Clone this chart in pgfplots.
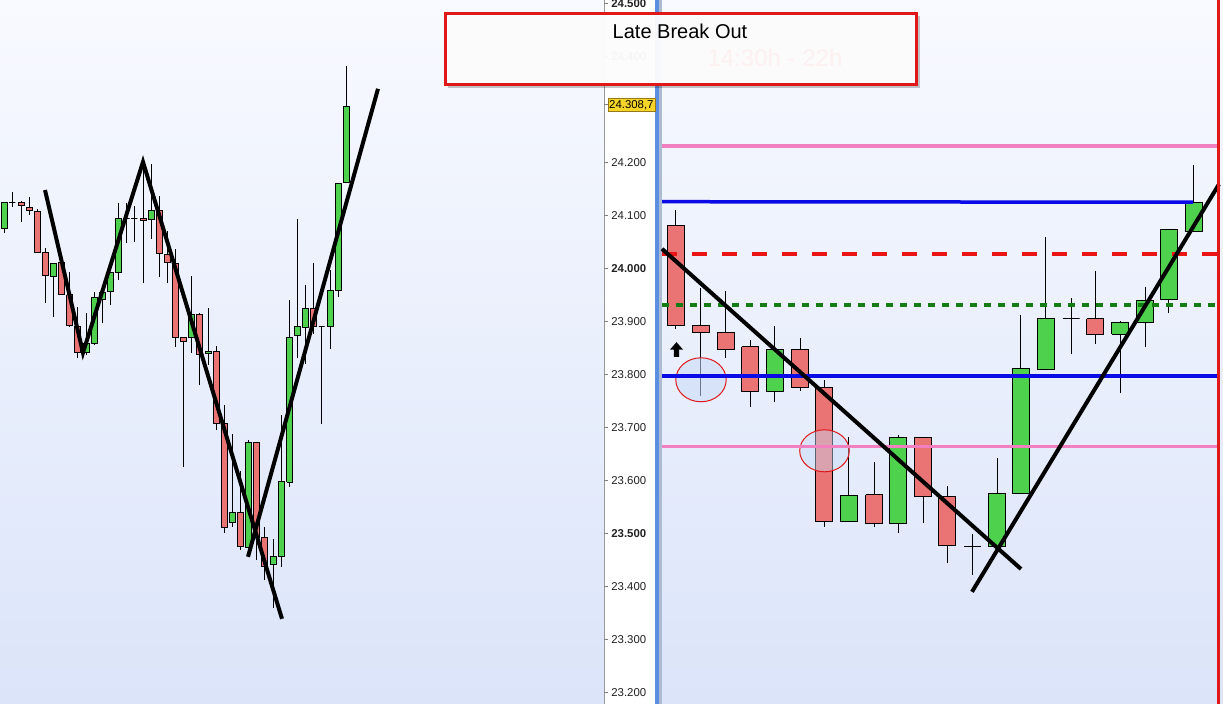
\documentclass[border=0pt]{standalone}
\usepackage{fontspec}
\setmainfont{Liberation Sans}
\usepackage{pgfplots}
\pgfplotsset{compat=1.18}
\usetikzlibrary{arrows.meta}
\definecolor{cgreen}{RGB}{78,210,78}
\definecolor{cred}{RGB}{234,116,116}
\definecolor{bgtop}{RGB}{248,250,255}
\definecolor{bgbot}{RGB}{219,228,249}
\definecolor{lvlpink}{RGB}{242,128,192}
\definecolor{lvlblue}{RGB}{10,10,230}
\definecolor{lvlred}{RGB}{235,20,20}
\definecolor{lvlgreen}{RGB}{20,125,20}
\definecolor{sepblue}{RGB}{91,142,224}
\definecolor{sepgray}{RGB}{172,186,210}
\definecolor{boxred}{RGB}{224,24,24}
\definecolor{lbl}{RGB}{34,34,34}
\newcommand{\hw}{3}
\newcommand{\cdl}[5]{%
  \pgfmathsetmacro\xl{#1-\hw}%
  \pgfmathsetmacro\xr{#1+\hw}%
  \ifnum #5>#2\relax \def\cc{cgreen}\else\def\cc{cred}\fi
  \edef\tmp{\noexpand\addplot[forget plot, black, line width=0.5pt] coordinates {(#1,#4) (#1,#3)};
  \noexpand\addplot[forget plot, draw=black, line width=0.5pt, fill=\cc] coordinates {(\xl,#2) (\xr,#2) (\xr,#5) (\xl,#5) (\xl,#2)};}%
  \tmp
}
\newcommand{\plbl}[2]{\node[anchor=west, inner sep=0pt, text=lbl, font=\fontsize{5.7}{7}\selectfont] at (axis cs:611,#1) {#2};
  \draw[gray] (axis cs:604,#1) -- (axis cs:608,#1);}
\begin{document}
\begin{tikzpicture}
\begin{axis}[at={(0,0)}, anchor=south west, width=611.5pt, height=352pt, scale only axis,
  xmin=0, xmax=1223, ymin=23178.3, ymax=24506.6, hide axis, clip=true]
% backgrounds
\fill[top color=bgtop, bottom color=bgbot] (axis cs:0,23178.3) rectangle (axis cs:604,24506.6);
\fill[white] (axis cs:604,23178.3) rectangle (axis cs:655,24506.6);
\fill[sepblue] (axis cs:655,23178.3) rectangle (axis cs:659,24506.6);
\fill[sepgray] (axis cs:659,23178.3) rectangle (axis cs:662,24506.6);
\fill[top color=bgtop, bottom color=bgbot] (axis cs:662,23178.3) rectangle (axis cs:1223,24506.6);
\draw[gray!80] (axis cs:604,23178.3) -- (axis cs:604,24506.6);
% left candles
\renewcommand{\hw}{3}
\cdl{4.5}{24076}{24124}{24067}{24124}
\cdl{12.3}{24124}{24144}{24116}{24124}
\cdl{21}{24124}{24127}{24088}{24118}
\cdl{29.5}{24116}{24135}{24101}{24110}
\cdl{37.5}{24108}{24112}{24031}{24031}
\cdl{45.3}{24031}{24039}{23935}{23986}
\cdl{53.3}{23984}{24010}{23908}{24010}
\cdl{61.3}{24012}{24012}{23950}{23950}
\cdl{69.5}{23950}{23993}{23890}{23893}
\cdl{77}{23890}{23927}{23831}{23841}
\cdl{86}{23841}{23916}{23837}{23858}
\cdl{94.5}{23858}{23956}{23856}{23946}
\cdl{102.5}{23942}{23954}{23897}{23954}
\cdl{110}{23956}{23992}{23931}{23992}
\cdl{118}{23992}{24124}{23978}{24095}
\cdl{126.7}{24095}{24124}{24048}{24095}
\cdl{134.3}{24095}{24118}{24050}{24095}
\cdl{143.7}{24095}{24199}{23973}{24090}
\cdl{151.3}{24093}{24197}{24056}{24110}
\cdl{159.3}{24110}{24137}{23984}{24029}
\cdl{167.3}{24027}{24071}{23973}{24012}
\cdl{175.3}{24010}{24037}{23852}{23869}
\cdl{183.3}{23869}{23869}{23625}{23863}
\cdl{191.3}{23869}{23986}{23841}{23914}
\cdl{199.3}{23914}{23916}{23780}{23837}
\cdl{208.5}{23839}{23925}{23818}{23844}
\cdl{216.3}{23843}{23854}{23695}{23707}
\cdl{224.7}{23707}{23742}{23501}{23512}
\cdl{232.3}{23520}{23688}{23512}{23539}
\cdl{240.3}{23539}{23618}{23469}{23475}
\cdl{248.7}{23473}{23676}{23473}{23671}
\cdl{256.3}{23671}{23671}{23450}{23493}
\cdl{264.3}{23492}{23512}{23412}{23437}
\cdl{273.3}{23441}{23490}{23359}{23456}
\cdl{281.3}{23456}{23724}{23437}{23599}
\cdl{289.7}{23597}{23941}{23588}{23869}
\cdl{297.3}{23873}{24093}{23831}{23890}
\cdl{305.3}{23888}{23969}{23820}{23924}
\cdl{313.3}{23925}{24010}{23876}{23890}
\cdl{321.7}{23890}{23890}{23707}{23890}
\cdl{330.3}{23890}{23997}{23848}{23959}
\cdl{338.3}{23959}{24161}{23946}{24161}
\cdl{346.3}{24163}{24382}{24163}{24305}
% right candles
\renewcommand{\hw}{8.5}
\cdl{675.8}{24082}{24110}{23886}{23892}
\cdl{700.8}{23893}{23963}{23759}{23880}
\cdl{725.8}{23880}{23958}{23831}{23848}
\cdl{750}{23852}{23865}{23739}{23767}
\cdl{774.8}{23767}{23892}{23748}{23848}
\cdl{800}{23848}{23869}{23769}{23776}
\cdl{824}{23776}{23790}{23512}{23522}
\cdl{848.7}{23522}{23682}{23522}{23571}
\cdl{874}{23573}{23635}{23512}{23518}
\cdl{898}{23518}{23686}{23501}{23682}
\cdl{923.3}{23682}{23682}{23520}{23569}
\cdl{947}{23569}{23590}{23444}{23478}
\cdl{972.3}{23476}{23499}{23422}{23476}
\cdl{997}{23475}{23642}{23475}{23576}
\cdl{1020.7}{23575}{23912}{23575}{23812}
\cdl{1045.7}{23810}{24059}{23810}{23905}
\cdl{1071}{23905}{23944}{23839}{23905}
\cdl{1095}{23905}{23995}{23858}{23876}
\cdl{1120}{23876}{23901}{23765}{23899}
\cdl{1145}{23899}{23965}{23852}{23939}
\cdl{1168.7}{23941}{24073}{23916}{24073}
\cdl{1193.7}{24069}{24195}{24069}{24124}
% ellipses and arrow
\draw[boxred, line width=0.5pt, fill={rgb,255:red,200;green,218;blue,248}, fill opacity=0.55] (axis cs:701,23790) ellipse [x radius=12.6pt, y radius=11pt];
\draw[boxred, line width=0.5pt, fill={rgb,255:red,200;green,218;blue,248}, fill opacity=0.45] (axis cs:824.5,23656) ellipse [x radius=12.4pt, y radius=10.5pt];
\fill[black] (axis cs:676.5,23861) -- (axis cs:670,23847) -- (axis cs:673.8,23847) -- (axis cs:673.8,23833) -- (axis cs:679.2,23833) -- (axis cs:679.2,23847) -- (axis cs:683,23847) -- cycle;
% levels
\addplot[lvlpink, line width=1.6pt] coordinates {(662,24231) (1218,24231)};
\addplot[lvlblue, line width=1.75pt] coordinates {(662,24126) (1193,24125)};
\addplot[lvlred, line width=2pt, dash pattern=on 7.5pt off 7.5pt] coordinates {(662,24028) (1218,24028)};
\addplot[lvlgreen, line width=1.75pt, dash pattern=on 3.4pt off 3.6pt] coordinates {(662,23931) (1218,23931)};
\addplot[lvlblue, line width=1.75pt] coordinates {(662,23797) (1218,23797)};
\addplot[lvlpink, line width=1.6pt] coordinates {(662,23664) (1218,23664)};
% trend lines
\addplot[black, line width=2pt] coordinates {(45,24148) (83,23841) (143,24201) (282,23339)};
\addplot[black, line width=2pt] coordinates {(248,23456) (378,24339)};
\addplot[black, line width=2pt] coordinates {(662,24037) (1021,23433)};
\addplot[black, line width=2pt] coordinates {(972,23390) (1219,24159)};
% right border
\draw[boxred, line width=1.5pt] (axis cs:1218,23178.3) -- (axis cs:1218,24506.6);
% price labels
\plbl{24500}{\textbf{24.500}}
\plbl{24400}{24.400}
\plbl{24200}{24.200}
\plbl{24100}{24.100}
\plbl{24000}{\textbf{24.000}}
\plbl{23900}{23.900}
\plbl{23800}{23.800}
\plbl{23700}{23.700}
\plbl{23600}{23.600}
\plbl{23500}{\textbf{23.500}}
\plbl{23400}{23.400}
\plbl{23300}{23.300}
\plbl{23200}{23.200}
\draw[gray] (axis cs:604,24308.7) -- (axis cs:608,24308.7);
\node[anchor=west, inner sep=0.7pt, fill={rgb,255:red,246;green,212;blue,40}, draw={rgb,255:red,150;green,120;blue,20}, line width=0.3pt, text=black, font=\fontsize{5.7}{7}\selectfont] at (axis cs:607.5,24308.7) {24.308,7};
% title box
\fill[black, opacity=0.22] (axis cs:448,24476) rectangle (axis cs:920,24341);
\draw[boxred, line width=1.5pt, fill=white, fill opacity=0.95] (axis cs:445,24482) rectangle (axis cs:916,24348);
\node[font=\fontsize{12}{14}\selectfont, text={rgb,255:red,253;green,240;blue,240}] at (axis cs:775,24397) {14:30h - 22h};
\node[font=\fontsize{10}{12}\selectfont, text=black] at (axis cs:680,24448) {Late Break Out};
\end{axis}
\pgfresetboundingbox
\useasboundingbox (0,0) rectangle (611.5pt,352pt);
\end{tikzpicture}
\end{document}
